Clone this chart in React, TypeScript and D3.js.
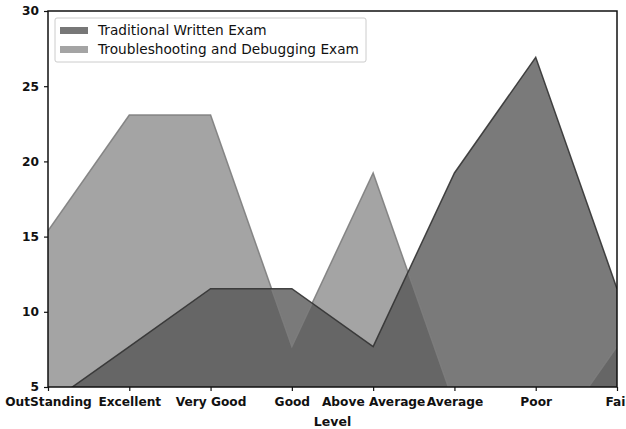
import React, { useEffect, useRef } from "react";
import * as d3 from "d3";

const levels = ["OutStanding", "Excellent", "Very Good", "Good", "Above Average", "Average", "Poor", "Fail"];
const traditional = [3.85, 7.69, 11.54, 11.54, 7.69, 19.23, 26.92, 11.54];
const troubleshooting = [15.38, 23.08, 23.08, 7.69, 19.23, 3.85, 0, 7.69];
const yTicks = [5, 10, 15, 20, 25, 30];
const seriesNames = ["Traditional Written Exam", "Troubleshooting and Debugging Exam"];

export default function App() {
  const ref = useRef<SVGSVGElement>(null);

  useEffect(() => {
    const svg = d3.select(ref.current);
    svg.selectAll("*").remove();

    const margin = { top: 11, right: 9, bottom: 42, left: 48 };
    const W = 626, H = 429;
    const w = W - margin.left - margin.right;
    const h = H - margin.top - margin.bottom;

    const x = d3.scalePoint<string>().domain(levels).range([0, w]);
    const y = d3.scaleLinear().domain([5, 30]).range([h, 0]);

    const g = svg.append("g").attr("transform", `translate(${margin.left},${margin.top})`);

    g.append("clipPath").attr("id", "plotclip")
      .append("rect").attr("width", w).attr("height", h);

    const series = [
      { name: seriesNames[0], values: traditional, fill: "#555555", opacity: 0.78, line: "#333333", legend: "#777777" },
      { name: seriesNames[1], values: troubleshooting, fill: "#a4a4a4", opacity: 1, line: "#7d7d7d", legend: "#a4a4a4" },
    ];

    const area = d3.area<number>()
      .x((_, i) => x(levels[i])!)
      .y0(y(0))
      .y1((d) => y(d));
    const line = d3.line<number>()
      .x((_, i) => x(levels[i])!)
      .y((d) => y(d));

    const plot = g.append("g").attr("clip-path", "url(#plotclip)");
    // light series underneath, dark series on top
    [series[1], series[0]].forEach((s) => {
      plot.append("path").attr("d", area(s.values)).attr("fill", s.fill).attr("fill-opacity", s.opacity);
    });
    [series[1], series[0]].forEach((s) => {
      plot.append("path").attr("d", line(s.values)).attr("fill", "none")
        .attr("stroke", s.line).attr("stroke-width", 1.5).attr("stroke-opacity", 0.9);
    });

    // frame
    g.append("rect").attr("width", w).attr("height", h)
      .attr("fill", "none").attr("stroke", "#111").attr("stroke-width", 1.5);

    const xAxis = g.append("g").attr("transform", `translate(0,${h})`)
      .call(d3.axisBottom(x).tickSize(4).tickPadding(6));
    const yAxis = g.append("g")
      .call(d3.axisLeft(y).tickValues(yTicks).tickSize(4).tickPadding(5));
    [xAxis, yAxis].forEach((a) => {
      a.select(".domain").remove();
      a.selectAll("line").attr("stroke", "#111").attr("stroke-width", 1.2);
      a.selectAll("text")
        .attr("font-family", "DejaVu Sans")
        .attr("font-size", 12.2)
        .attr("font-weight", "bold")
        .attr("fill", "#111");
    });

    g.append("text")
      .attr("x", w / 2).attr("y", h + 39)
      .attr("text-anchor", "middle")
      .attr("font-family", "DejaVu Sans").attr("font-size", 12.5).attr("font-weight", "bold")
      .attr("fill", "#111")
      .text("Level");

    // legend
    const lg = svg.append("g").attr("transform", "translate(55,18)");
    lg.append("rect").attr("width", 311).attr("height", 44).attr("rx", 2)
      .attr("fill", "white").attr("fill-opacity", 0.85)
      .attr("stroke", "#cccccc").attr("stroke-width", 1);
    series.forEach((s, i) => {
      lg.append("rect").attr("x", 5).attr("y", 9 + i * 19).attr("width", 28).attr("height", 7)
        .attr("fill", s.legend);
      lg.append("text").attr("x", 43).attr("y", 16.5 + i * 19)
        .attr("font-family", "DejaVu Sans").attr("font-size", 13.7).attr("fill", "#111")
        .text(s.name);
    });
  }, []);

  return (
    <svg ref={ref} width={626} height={429}
      style={{ position: "absolute", left: 0, top: 0, background: "white" }} />
  );
}
